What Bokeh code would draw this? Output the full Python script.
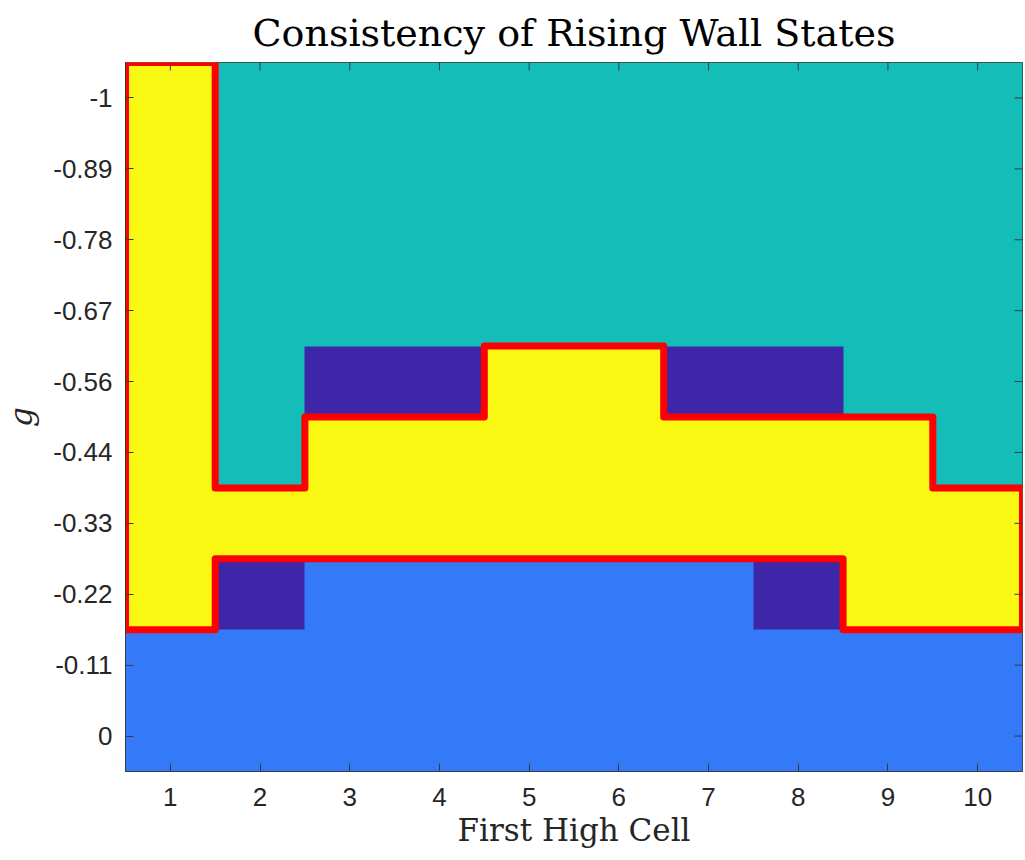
import numpy as np
from bokeh.plotting import figure
from bokeh.models import Range1d, FixedTicker, LinearColorMapper
from bokeh.embed import file_html
from bokeh.resources import INLINE

# ---- data ----
title_text = "Consistency of Rising Wall States"
x_cells = [1, 2, 3, 4, 5, 6, 7, 8, 9, 10]
g_labels = ["0", "-0.11", "-0.22", "-0.33", "-0.44", "-0.56", "-0.67", "-0.78", "-0.89", "-1"]
# state codes: 0 inconsistent (dark), 1 low, 2 high, 3 consistent (yellow)
row_g0 = [1, 1, 1, 1, 1, 1, 1, 1, 1, 1]
row_g011 = [1, 1, 1, 1, 1, 1, 1, 1, 1, 1]
row_g022 = [3, 0, 1, 1, 1, 1, 1, 0, 3, 3]
row_g033 = [3, 3, 3, 3, 3, 3, 3, 3, 3, 3]
row_g044 = [3, 2, 3, 3, 3, 3, 3, 3, 3, 2]
row_g056 = [3, 2, 0, 0, 3, 3, 0, 0, 2, 2]
row_g067 = [3, 2, 2, 2, 2, 2, 2, 2, 2, 2]
row_g078 = [3, 2, 2, 2, 2, 2, 2, 2, 2, 2]
row_g089 = [3, 2, 2, 2, 2, 2, 2, 2, 2, 2]
row_g100 = [3, 2, 2, 2, 2, 2, 2, 2, 2, 2]
rows = [row_g0, row_g011, row_g022, row_g033, row_g044,
        row_g056, row_g067, row_g078, row_g089, row_g100]
palette = ["#3D26A8", "#3479F8", "#15BDB8", "#F8F812"]

state = np.array(rows)
nrow, ncol = state.shape

x_lo, x_hi = x_cells[0] - 0.5, x_cells[-1] + 0.5
y_lo, y_hi = -0.5, nrow - 0.5

p = figure(width=1025, height=860, output_backend="svg", toolbar_location=None,
           x_range=Range1d(x_lo, x_hi), y_range=Range1d(y_lo, y_hi),
           min_border_left=125, min_border_right=3, min_border_top=62, min_border_bottom=89,
           title=title_text)

mapper = LinearColorMapper(palette=palette, low=-0.5, high=3.5)
p.image(image=[state.astype(float)], x=x_lo, y=y_lo, dw=x_hi - x_lo, dh=y_hi - y_lo,
        color_mapper=mapper)

# ---- outline of consistent region ----
yellow = state == 3
def is_y(k, i):
    return 0 <= k < nrow and 0 <= i < ncol and yellow[k, i]
edges = []
for k in range(nrow):
    for i in range(ncol):
        if not yellow[k, i]:
            continue
        x0, x1 = x_cells[i] - 0.5, x_cells[i] + 0.5
        y0, y1 = k - 0.5, k + 0.5
        if not is_y(k - 1, i): edges.append(((x0, y0), (x1, y0)))
        if not is_y(k + 1, i): edges.append(((x0, y1), (x1, y1)))
        if not is_y(k, i - 1): edges.append(((x0, y0), (x0, y1)))
        if not is_y(k, i + 1): edges.append(((x1, y0), (x1, y1)))
adj = {}
for idx, (a, b) in enumerate(edges):
    adj.setdefault(a, []).append(idx)
    adj.setdefault(b, []).append(idx)
used = {0}
path = [edges[0][0], edges[0][1]]
cur = edges[0][1]
while True:
    nxt = [e for e in adj[cur] if e not in used]
    if not nxt:
        break
    e = nxt[0]
    used.add(e)
    a, b = edges[e]
    cur = b if a == cur else a
    if cur == path[0]:
        break
    path.append(cur)
simp = []
n = len(path)
for j in range(n):
    pa, pb, pc = path[j - 1], path[j], path[(j + 1) % n]
    if (pa[0] == pb[0] == pc[0]) or (pa[1] == pb[1] == pc[1]):
        continue
    simp.append(pb)
p.patch([q[0] for q in simp], [q[1] for q in simp], fill_color=None,
        line_color="#FF0000", line_width=7, line_join="round")

# ---- axes ----
yticks = list(range(nrow))
axis_color = "#3a3a3a"
tick_color = "#262626"
tick_px = 8

# mirrored inward ticks on top and right edges (box on)
frame_w_px = 1025 - 125 - 3
frame_h_px = 860 - 62 - 89
tx = tick_px * (x_hi - x_lo) / frame_w_px
ty = tick_px * (y_hi - y_lo) / frame_h_px
p.segment(x0=x_cells, y0=[y_hi] * len(x_cells), x1=x_cells, y1=[y_hi - ty] * len(x_cells),
          line_color=axis_color, line_width=1)
p.segment(x0=[x_hi] * len(yticks), y0=yticks, x1=[x_hi - tx] * len(yticks), y1=yticks,
          line_color=axis_color, line_width=1)

p.xaxis.ticker = FixedTicker(ticks=x_cells)
p.yaxis.ticker = FixedTicker(ticks=yticks)
p.yaxis.major_label_overrides = {k: g_labels[k] for k in yticks}
for ax in (p.xaxis[0], p.yaxis[0]):
    ax.major_tick_in = tick_px
    ax.major_tick_out = 0
    ax.minor_tick_in = 0
    ax.minor_tick_out = 0
    ax.axis_line_color = axis_color
    ax.major_tick_line_color = axis_color
    ax.major_label_text_font = "Liberation Sans"
    ax.major_label_text_font_size = "26px"
    ax.major_label_text_color = tick_color
    ax.axis_label_text_font = "DejaVu Serif"
    ax.axis_label_text_font_style = "normal"
    ax.axis_label_text_color = tick_color
p.yaxis.major_label_standoff = 13
p.xaxis.major_label_standoff = 16
p.xaxis.axis_label = "First High Cell"
p.xaxis.axis_label_text_font_size = "31px"
p.xaxis.axis_label_standoff = 3
p.yaxis.axis_label = "g"
p.yaxis.axis_label_text_font_style = "italic"
p.yaxis.axis_label_text_font_size = "31px"
p.yaxis.axis_label_standoff = 11

p.xgrid.visible = False
p.ygrid.visible = False
p.outline_line_color = axis_color
p.outline_line_width = 1

p.title.align = "center"
p.title.vertical_align = "bottom"
p.title.text_font = "DejaVu Serif"
p.title.text_font_style = "normal"
p.title.text_font_size = "38px"
p.title.text_color = "#000000"
p.title.standoff = 16

open("out.html", "w").write(file_html(p, INLINE))
